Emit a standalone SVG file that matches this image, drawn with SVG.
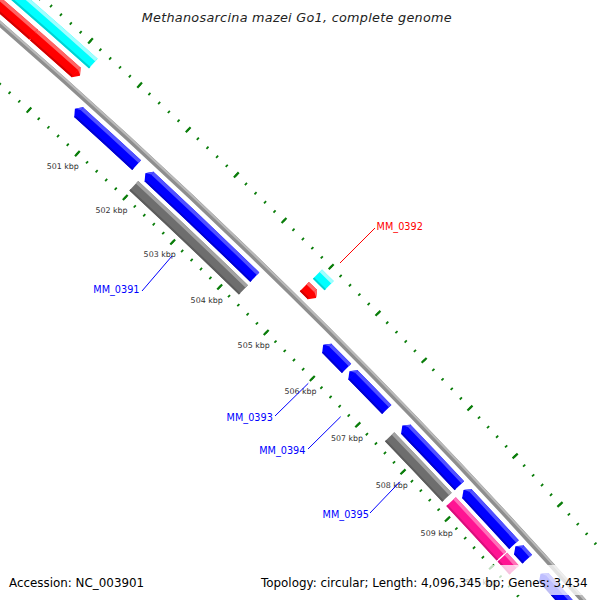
<svg xmlns="http://www.w3.org/2000/svg" xmlns:xlink="http://www.w3.org/1999/xlink" width="600" height="600" viewBox="0 0 600 600">
<defs>
<style>
.body{fill:none;stroke-width:13}
.lt{fill:none;stroke-width:3.5}
.dk{fill:none;stroke-width:2}
.b{stroke:#0000ff}.bL{stroke:#5252ff}.bD{stroke:#0000d0}
.g{stroke:#6e6e6e}.gL{stroke:#a2a2a2}.gD{stroke:#5c5c5c}
.p{stroke:#ff1493}.pL{stroke:#ff70b8}.pD{stroke:#d8107c}
.r{stroke:#ff0000}.rL{stroke:#ff6464}.rD{stroke:#d20000}
.c{stroke:#00ffff}.cL{stroke:#a0ffff}.cD{stroke:#00d2d2}
.tk{fill:none;stroke:#0a7d0a}
.bb{fill:none;stroke:#8e8e8e;stroke-width:5.5}
.bbh{fill:none;stroke:#bababa;stroke-width:2}
.kl{font-family:"DejaVu Sans",sans-serif;font-size:7.9px;fill:#333;text-anchor:middle}
.fl{font-family:"DejaVu Sans",sans-serif;font-size:9.7px}
.lg{font-family:"DejaVu Sans",sans-serif;font-size:11.9px;fill:#000}
</style>
<polygon id="hb" fill="#0000ff" points="6348,0 6354.5,5 6354.5,5.6 6341.5,5.6 6341.5,5"/>
<polygon id="hbL" fill="#5252ff" points="6348.6,0.3 6354.5,5 6354.5,5.6 6351,5.6 6351,5"/>
<polygon id="hr" fill="#ff0000" points="6376,0 6382.5,-5 6382.5,-5.6 6369.5,-5.6 6369.5,-5"/>
<polygon id="hrL" fill="#ff6464" points="6376.6,-0.3 6382.5,-5 6382.5,-5.6 6379,-5.6 6379,-5"/>
</defs>
<rect width="600" height="600" fill="#ffffff"/>
<g id="map" transform="translate(-4172,4827)">
  <g id="ticks" transform="rotate(-50.08)">
    <circle r="6409" class="tk" stroke-width="3" stroke-dasharray="1.8 11.3992" stroke-dashoffset="0.9"/>
    <circle r="6409" class="tk" stroke-width="7" stroke-dasharray="2.2 63.796" stroke-dashoffset="1.1"/>
    <circle r="6316.5" class="tk" stroke-width="3" stroke-dasharray="1.8 11.2086" stroke-dashoffset="0.9"/>
    <circle r="6316.5" class="tk" stroke-width="7" stroke-dasharray="2.2 62.843" stroke-dashoffset="1.1"/>
  </g>
  <g id="backbone">
    <circle r="6362" class="bb"/>
    <circle r="6363.5" class="bbh"/>
  </g>
  <g id="C1" transform="rotate(-50.08)">
    <circle r="6394" class="body c" stroke-dasharray="214.6 99999"/>
    <circle r="6398.75" class="lt cL" stroke-dasharray="214.6 99999"/>
    <circle r="6388.5" class="dk cD" stroke-dasharray="214.6 99999"/>
  </g>
  <g id="C2" transform="rotate(-45.4013)">
    <circle r="6394" class="body c" stroke-dasharray="16.46 99999"/>
    <circle r="6398.75" class="lt cL" stroke-dasharray="16.46 99999"/>
    <circle r="6388.5" class="dk cD" stroke-dasharray="16.46 99999"/>
  </g>
  <g id="R1">
    <g transform="rotate(-50.08)">
      <circle r="6376" class="body r" stroke-dasharray="149.95 99999"/>
      <circle r="6380.75" class="lt rL" stroke-dasharray="149.95 99999"/>
      <circle r="6370.5" class="dk rD" stroke-dasharray="149.95 99999"/>
    </g>
    <g transform="rotate(-48.6876)"><use xlink:href="#hr"/><use xlink:href="#hrL"/></g>
  </g>
  <g id="R2">
    <g transform="rotate(-48.723)">
      <circle r="6376" class="body r" stroke-dasharray="56.06 99999"/>
      <circle r="6380.75" class="lt rL" stroke-dasharray="56.06 99999"/>
      <circle r="6370.5" class="dk rD" stroke-dasharray="56.06 99999"/>
    </g>
    <g transform="rotate(-48.1743)"><use xlink:href="#hr"/><use xlink:href="#hrL"/></g>
  </g>
  <g id="MM_0392">
    <g transform="rotate(-45.4072)">
      <circle r="6376" class="body r" stroke-dasharray="11.41 99999"/>
      <circle r="6380.75" class="lt rL" stroke-dasharray="11.41 99999"/>
      <circle r="6370.5" class="dk rD" stroke-dasharray="11.41 99999"/>
    </g>
    <g transform="rotate(-45.2597)"><use xlink:href="#hr"/><use xlink:href="#hrL"/></g>
  </g>
  <g id="B1" transform="rotate(-48.0091)">
    <circle r="6348" class="body b" stroke-dasharray="0 5 78.67 99999"/>
    <circle r="6352.75" class="lt bL" stroke-dasharray="0 5 78.67 99999"/>
    <circle r="6342.5" class="dk bD" stroke-dasharray="0 5 78.67 99999"/>
    <use xlink:href="#hb"/><use xlink:href="#hbL"/>
  </g>
  <g id="MM_0391" transform="rotate(-47.1477)">
    <circle r="6348" class="body b" stroke-dasharray="0 5 146 99999"/>
    <circle r="6352.75" class="lt bL" stroke-dasharray="0 5 146 99999"/>
    <circle r="6342.5" class="dk bD" stroke-dasharray="0 5 146 99999"/>
    <use xlink:href="#hb"/><use xlink:href="#hbL"/>
    <circle r="6331" class="body g" stroke-dasharray="151.25 99999"/>
    <circle r="6335.75" class="lt gL" stroke-dasharray="151.25 99999"/>
    <circle r="6325.5" class="dk gD" stroke-dasharray="151.25 99999"/>
  </g>
  <g id="MM_0393" transform="rotate(-44.9175)">
    <circle r="6348" class="body b" stroke-dasharray="0 5 28.34 99999"/>
    <circle r="6352.75" class="lt bL" stroke-dasharray="0 5 28.34 99999"/>
    <circle r="6342.5" class="dk bD" stroke-dasharray="0 5 28.34 99999"/>
    <use xlink:href="#hb"/><use xlink:href="#hbL"/>
  </g>
  <g id="MM_0394" transform="rotate(-44.5812)">
    <circle r="6348" class="body b" stroke-dasharray="0 5 48.6 99999"/>
    <circle r="6352.75" class="lt bL" stroke-dasharray="0 5 48.6 99999"/>
    <circle r="6342.5" class="dk bD" stroke-dasharray="0 5 48.6 99999"/>
    <use xlink:href="#hb"/><use xlink:href="#hbL"/>
  </g>
  <g id="MM_0395">
    <g transform="rotate(-43.8968)">
      <circle r="6348" class="body b" stroke-dasharray="0 5 78.02 99999"/>
      <circle r="6352.75" class="lt bL" stroke-dasharray="0 5 78.02 99999"/>
      <circle r="6342.5" class="dk bD" stroke-dasharray="0 5 78.02 99999"/>
      <use xlink:href="#hb"/><use xlink:href="#hbL"/>
    </g>
    <g transform="rotate(-43.9027)">
      <circle r="6331" class="body g" stroke-dasharray="83.45 99999"/>
      <circle r="6335.75" class="lt gL" stroke-dasharray="83.45 99999"/>
      <circle r="6325.5" class="dk gD" stroke-dasharray="83.45 99999"/>
    </g>
  </g>
  <g id="B6" transform="rotate(-43.0944)">
    <circle r="6348" class="body b" stroke-dasharray="0 5 69.52 99999"/>
    <circle r="6352.75" class="lt bL" stroke-dasharray="0 5 69.52 99999"/>
    <circle r="6342.5" class="dk bD" stroke-dasharray="0 5 69.52 99999"/>
    <use xlink:href="#hb"/><use xlink:href="#hbL"/>
  </g>
  <g id="P1" transform="rotate(-43.0944)">
    <circle r="6331" class="body p" stroke-dasharray="74.32 99999"/>
    <circle r="6335.75" class="lt pL" stroke-dasharray="74.32 99999"/>
    <circle r="6325.5" class="dk pD" stroke-dasharray="74.32 99999"/>
  </g>
  <g id="P2" transform="rotate(-42.41)">
    <circle r="6331" class="body p" stroke-dasharray="17.6 99999"/>
    <circle r="6335.75" class="lt pL" stroke-dasharray="17.6 99999"/>
    <circle r="6325.5" class="dk pD" stroke-dasharray="17.6 99999"/>
  </g>
  <g id="B7" transform="rotate(-42.4041)">
    <circle r="6348" class="body b" stroke-dasharray="0 5 12.65 99999"/>
    <circle r="6352.75" class="lt bL" stroke-dasharray="0 5 12.65 99999"/>
    <circle r="6342.5" class="dk bD" stroke-dasharray="0 5 12.65 99999"/>
    <use xlink:href="#hb"/><use xlink:href="#hbL"/>
  </g>
  <g id="B8" transform="rotate(-42.0678)">
    <circle r="6348" class="body b" stroke-dasharray="0 5 120.5 99999"/>
    <circle r="6352.75" class="lt bL" stroke-dasharray="0 5 120.5 99999"/>
    <circle r="6342.5" class="dk bD" stroke-dasharray="0 5 120.5 99999"/>
    <use xlink:href="#hb"/><use xlink:href="#hbL"/>
  </g>
</g>
<g id="tick-labels">
  <text class="kl" x="62.8" y="169">501 kbp</text>
  <text class="kl" x="111.5" y="213">502 kbp</text>
  <text class="kl" x="159.7" y="257">503 kbp</text>
  <text class="kl" x="206.7" y="303">504 kbp</text>
  <text class="kl" x="253.7" y="348">505 kbp</text>
  <text class="kl" x="300.5" y="394">506 kbp</text>
  <text class="kl" x="347" y="441">507 kbp</text>
  <text class="kl" x="391.8" y="488">508 kbp</text>
  <text class="kl" x="436.7" y="536">509 kbp</text>
  <text class="kl" x="481" y="585">510 kbp</text>
</g>
<g id="connectors" stroke-width="1" fill="none">
  <line x1="142" y1="291" x2="172" y2="256" stroke="#0000ff"/>
  <line x1="375" y1="228" x2="340" y2="263" stroke="#ff0000"/>
  <line x1="275" y1="416" x2="308.3" y2="383.3" stroke="#0000ff"/>
  <line x1="308" y1="449" x2="340.7" y2="416.7" stroke="#0000ff"/>
  <line x1="370" y1="513" x2="400" y2="481.7" stroke="#0000ff"/>
</g>
<g id="feature-labels">
  <text class="fl" x="139.5" y="292.5" text-anchor="end" fill="#0000ff">MM_0391</text>
  <text class="fl" x="376.6" y="230" fill="#ff0000">MM_0392</text>
  <text class="fl" x="272.8" y="420.5" text-anchor="end" fill="#0000ff">MM_0393</text>
  <text class="fl" x="305.4" y="453.5" text-anchor="end" fill="#0000ff">MM_0394</text>
  <text class="fl" x="368.8" y="517.5" text-anchor="end" fill="#0000ff">MM_0395</text>
</g>
<text x="296.7" y="22" text-anchor="middle" font-family="DejaVu Sans, sans-serif" font-style="italic" font-size="12.8" fill="#222" textLength="310">Methanosarcina mazei Go1, complete genome</text>
<rect x="255" y="565" width="341" height="30" fill="#ffffff" fill-opacity="0.75"/>
<text class="lg" x="9" y="587">Accession: NC_003901</text>
<text class="lg" x="261" y="587">Topology: circular; Length: 4,096,345 bp; Genes: 3,434</text>
</svg>
